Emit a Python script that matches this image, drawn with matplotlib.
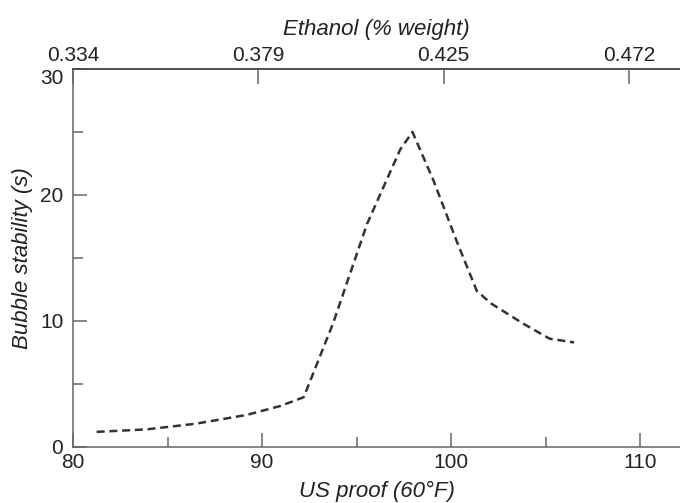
import matplotlib
matplotlib.use('Agg')
import matplotlib.pyplot as plt
from matplotlib.ticker import FixedLocator

# Curve: US proof (60°F) vs bubble stability (s)
proof = [81.25, 83.9, 86.5, 89.2, 90.95, 92.2, 93.75, 95.55, 97.3, 97.95,
         99.05, 100.3, 101.35, 102.1, 103.8, 105.2, 106.5]
stability = [1.2, 1.4, 1.85, 2.55, 3.25, 3.95, 9.8, 17.7, 23.6, 25.0,
             21.2, 16.3, 12.4, 11.4, 9.8, 8.6, 8.3]

bottom_major = [80, 90, 100, 110]
bottom_minor = [85, 95, 105]
y_major = [0, 10, 20, 30]
y_minor = [5, 15, 25]

# top axis: ethanol weight fraction, placed at proof positions
top_tick_pos = [80, 89.8, 99.6, 109.4]
top_tick_labels = ['0.334', '0.379', '0.425', '0.472']

plt.rcParams['font.family'] = ['Liberation Sans', 'DejaVu Sans']
fs = 15
lfs = 16
text_c = '#222222'
spine_c = '#666666'

fig = plt.figure(figsize=(6.8, 5.03), dpi=100)
ax = fig.add_axes([73 / 680, 56 / 503, 607 / 680, 378 / 503])

ax.plot(proof, stability, color='#333333', lw=1.8, linestyle=(0, (3.2, 1.9)))

ax.set_xlim(80, 112.1)
ax.set_ylim(0, 30)
ax.spines['right'].set_visible(False)
for s in ['left', 'bottom', 'top']:
    ax.spines[s].set_color(spine_c)
    ax.spines[s].set_linewidth(1.1)

ax.xaxis.set_major_locator(FixedLocator(bottom_major))
ax.xaxis.set_minor_locator(FixedLocator(bottom_minor))
ax.yaxis.set_major_locator(FixedLocator(y_major))
ax.yaxis.set_minor_locator(FixedLocator(y_minor))
ax.tick_params(axis='both', which='both', direction='in', colors=spine_c,
               labelcolor=text_c, labelsize=fs)
ax.tick_params(axis='x', which='major', length=10, width=1.1, pad=4)
ax.tick_params(axis='x', which='minor', length=7, width=1.1)
ax.tick_params(axis='y', which='major', length=10, width=1.1, pad=7)
ax.tick_params(axis='y', which='minor', length=7, width=1.1)

# the "30" label sits just below the top spine in the original
fig.canvas.draw()
ax.get_yticklabels()[-1].set_verticalalignment('top')

ax.set_xlabel('US proof (60°F)', style='italic', color=text_c, fontsize=lfs, labelpad=7)
ax.set_ylabel('Bubble stability (s)', style='italic', color=text_c, fontsize=lfs, labelpad=5)

top = ax.twiny()
top.set_xlim(ax.get_xlim())
for s in ['right', 'left', 'bottom']:
    top.spines[s].set_visible(False)
top.spines['top'].set_color('#444444')
top.spines['top'].set_linewidth(1.1)
top.set_xticks(top_tick_pos)
top.set_xticklabels(top_tick_labels)
top.tick_params(axis='x', direction='in', length=11, width=1.1, colors=spine_c,
                labelcolor=text_c, labelsize=fs, pad=3)
top.set_xlabel('Ethanol (% weight)', style='italic', color=text_c, fontsize=lfs, labelpad=8)

fig.savefig('out.png', dpi=100)
